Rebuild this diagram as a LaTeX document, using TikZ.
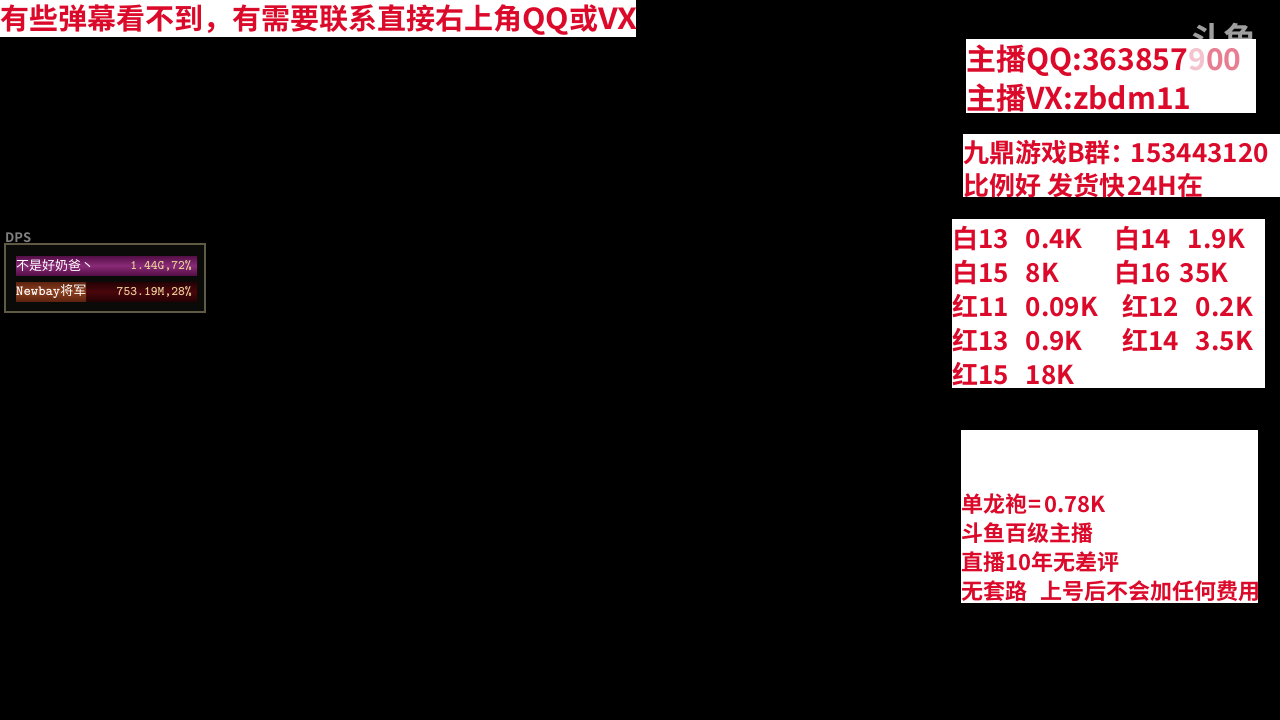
\documentclass[tikz,border=0pt]{standalone}
\usepackage{fontspec}
\setmainfont{Noto Sans CJK SC}[BoldFont={* Bold}]
\usetikzlibrary{positioning}
\definecolor{adred}{HTML}{DC0A2A}
\definecolor{adfade}{HTML}{F4C4CE}
\definecolor{adhalf}{HTML}{E87C90}
\definecolor{panelline}{HTML}{5E5A44}
\definecolor{panelback}{HTML}{0A0A08}
\definecolor{barpurple}{HTML}{8A2A78}
\definecolor{barpurpled}{HTML}{551048}
\definecolor{barbrown}{HTML}{8E4020}
\definecolor{barbrownd}{HTML}{5E2410}
\definecolor{bardark}{HTML}{4A060C}
\definecolor{bardarkd}{HTML}{240204}
\definecolor{numcol}{HTML}{E8CF98}
\tikzset{
  adbox/.style={fill=white,draw=none},
  adtext/.style={anchor=west,inner sep=0pt,yshift=-1.2pt,text=adred,font=\bfseries\fontsize{#1}{#1}\selectfont},
  dpstext/.style={anchor=west,inner sep=0pt,text=white,font=\fontsize{13}{13}\selectfont},
  dpsnum/.style={anchor=east,inner sep=0pt,text=numcol,font=\ttfamily\bfseries\fontsize{13}{13}\selectfont}
}
\begin{document}
\begin{tikzpicture}[x=1pt,y=-1pt]
  \useasboundingbox (0,0) rectangle (1280,720);
  \fill[black] (0,0) rectangle (1280,720); % the screen

  % banner on top
  \fill[adbox] (0,0) rectangle (636,37);
  \node[adtext=29] (banner) at (0,19) {有些弹幕看不到，有需要联系直接右上角\scalebox{1.05}[1]{QQ}或\scalebox{1.1}[1]{VX}};

  % watermark, the box hides its lower half
  \node[anchor=west,inner sep=0pt,text=gray!75,font=\bfseries\fontsize{33}{33}\selectfont,xscale=1.03] (mark) at (1189,39) {斗鱼};

  % contact box
  \fill[adbox] (966,39) rectangle (1256,113);
  \node[adtext=30] (qq) at (966,60) {主播QQ:363857\textcolor{adfade}{9}\textcolor{adhalf}{00}};
  \node[adtext=30] (vx) at (966,97) {主播VX:zbdm11};

  % group box
  \fill[adbox] (963,134) rectangle (1280,197);
  \node[adtext=26] (group) at (963,151) {九鼎游戏B群：\hspace{-6pt}153443120};
  \node[adtext=26] (sale) at (963,184) {比例好 发货快\hspace{-4pt} 24H在};

  % price box
  \fill[adbox] (952,219) rectangle (1265,388);
  \node[adtext=26] (w13) at (952,237) {白13\hspace{17pt}0.4K};
  \node[adtext=26] (w14) at (1114,237) {白14\hspace{17pt}1.9K};
  \node[adtext=26] (w15) at (952,271) {白15\hspace{17pt}8K};
  \node[adtext=26] (w16) at (1114,271) {白16\hspace{9pt}35K};
  \node[adtext=26] (r11) at (952,305) {红11\hspace{17pt}0.09K};
  \node[adtext=26] (r12) at (1122,305) {红12\hspace{17pt}0.2K};
  \node[adtext=26] (r13) at (952,339) {红13\hspace{17pt}0.9K};
  \node[adtext=26] (r14) at (1122,339) {红14\hspace{17pt}3.5K};
  \node[adtext=26] (r15) at (952,373) {红15\hspace{17pt}18K};

  % notes box
  \fill[adbox] (961,430) rectangle (1258,603);
  \node[adtext=22] (robe) at (961,503) {单龙袍\hspace{1pt}=\hspace{3pt}0.78K};
  \node[adtext=22] (rank) at (961,532) {斗鱼百级主播};
  \node[adtext=22] (year) at (961,561) {直播10年无差评};
  \node[adtext=22] (free) at (961,590) {无套路\hspace{13pt}上号后不会加任何费用};

  % the DPS panel
  \node[anchor=west,inner sep=0pt,text=gray,font=\bfseries\fontsize{13}{13}\selectfont] (dps) at (5,238) {DPS};
  \draw[panelline,fill=panelback,line width=1.2pt] (5,244) rectangle (205,312);
  \fill[top color=barpurpled,bottom color=barpurpled,middle color=barpurple] (16,256) rectangle (197,275);
  \fill[top color=bardarkd,bottom color=bardarkd,middle color=bardark] (16,282) rectangle (197,301);
  \fill[top color=barbrownd,bottom color=barbrownd,middle color=barbrown] (16,282) rectangle (86,301);
  \node[dpstext] (name1) at (16,266) {不是好奶爸丶};
  \node[dpsnum] (num1) at (192,266) {1.44G,72\%};
  \node[dpstext] (name2) at (16,292) {{\ttfamily\bfseries\fontsize{14}{14}\selectfont Newbay}将军};
  \node[dpsnum] (num2) at (192,292) {753.19M,28\%};
\end{tikzpicture}
\end{document}
